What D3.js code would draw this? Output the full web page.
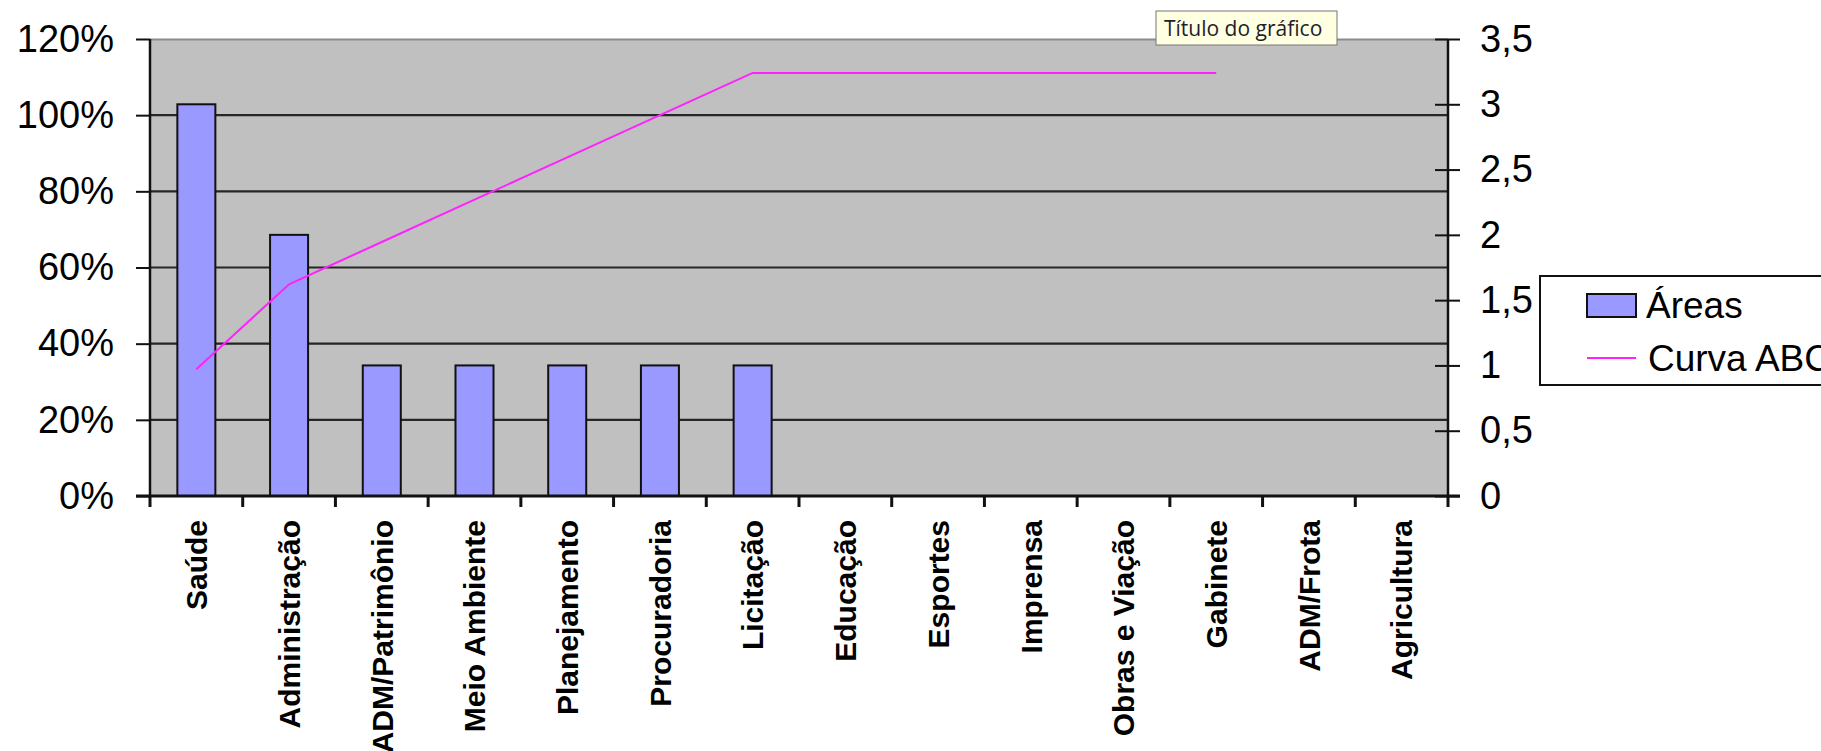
<!DOCTYPE html>
<html>
<head>
<meta charset="utf-8">
<script src="https://cdn.jsdelivr.net/npm/d3@7"></script>
<style>
  body { margin: 0; background: #fff; }
  svg { display: block; font-family: "Liberation Sans", Arial, sans-serif; }
  .domain { display: none; }
</style>
</head>
<body>
<div id="chart-area"></div>
<script>
// categorias e séries
var categories = ['Saúde', 'Administração', 'ADM/Patrimônio', 'Meio Ambiente', 'Planejamento',
    'Procuradoria', 'Licitação', 'Educação', 'Esportes', 'Imprensa', 'Obras e Viação',
    'Gabinete', 'ADM/Frota', 'Agricultura'];
var areas = [3, 2, 1, 1, 1, 1, 1, 0, 0, 0, 0, 0, 0, 0];
var curvaABC = [0.333, 0.556, 0.667, 0.778, 0.889, 1.0, 1.111, 1.111, 1.111, 1.111, 1.111, 1.111, null, null];
var leftTicks = [0, 0.2, 0.4, 0.6, 0.8, 1.0, 1.2];
var rightTicks = [0, 0.5, 1, 1.5, 2, 2.5, 3, 3.5];

var margin = { top: 39, left: 150 },
    width = 1298,
    height = 457;

var svg = d3.select('#chart-area')
    .append('svg')
        .attr('width', 1821)
        .attr('height', 751);

var g = svg.append('g')
    .attr('transform', 'translate(' + margin.left + ',' + margin.top + ')');

var x = d3.scaleBand()
    .domain(categories)
    .range([0, width]);

var yLeft = d3.scaleLinear()
    .domain([0, 1.2])
    .range([height, 0]);

var yRight = d3.scaleLinear()
    .domain([0, 3.5])
    .range([height, 0]);

// fundo da área de plotagem
g.append('rect')
    .attr('width', width)
    .attr('height', height)
    .attr('fill', '#c0c0c0');

g.append('line')
    .attr('x1', 0).attr('x2', width)
    .attr('y1', 0.5).attr('y2', 0.5)
    .attr('stroke', '#8c8c8c')
    .attr('stroke-width', 2);

// linhas de grade
g.selectAll('.grid')
    .data(leftTicks.filter(d => d > 0 && d < 1.2))
    .enter()
    .append('line')
        .attr('x1', 0).attr('x2', width)
        .attr('y1', d => yLeft(d)).attr('y2', d => yLeft(d))
        .attr('stroke', '#262626')
        .attr('stroke-width', 2.2);

// barras
var barW = x.bandwidth() * 0.41;
g.selectAll('.bar')
    .data(categories.map((c, i) => ({ cat: c, v: areas[i] })).filter(d => d.v > 0))
    .enter()
    .append('rect')
        .attr('x', d => x(d.cat) + (x.bandwidth() - barW) / 2)
        .attr('y', d => yRight(d.v))
        .attr('width', barW)
        .attr('height', d => height - yRight(d.v))
        .attr('fill', '#9999ff')
        .attr('stroke', '#111')
        .attr('stroke-width', 2);

// curva ABC
var line = d3.line()
    .defined(d => d.v !== null)
    .x(d => x(d.cat) + x.bandwidth() / 2)
    .y(d => yLeft(d.v));

g.append('path')
    .datum(categories.map((c, i) => ({ cat: c, v: curvaABC[i] })))
    .attr('d', line)
    .attr('fill', 'none')
    .attr('stroke', '#ff22ff')
    .attr('stroke-width', 2);

// eixo esquerdo
var yLeftCall = d3.axisLeft(yLeft)
    .tickValues(leftTicks)
    .tickSize(14)
    .tickPadding(22)
    .tickFormat(d3.format('.0%'));
var gl = g.append('g').call(yLeftCall);
gl.selectAll('line').attr('stroke', '#111').attr('stroke-width', 2);
gl.selectAll('text').attr('font-size', '38px').attr('fill', '#000');
g.append('line')
    .attr('x1', 0).attr('x2', 0)
    .attr('y1', 0).attr('y2', height)
    .attr('stroke', '#111').attr('stroke-width', 2.5);

// eixo direito
var yRightCall = d3.axisRight(yRight)
    .tickValues(rightTicks)
    .tickSize(12)
    .tickPadding(20)
    .tickFormat(d => String(d).replace('.', ','));
var gr = g.append('g')
    .attr('transform', 'translate(' + width + ',0)')
    .call(yRightCall);
gr.selectAll('line').attr('x1', -13).attr('stroke', '#111').attr('stroke-width', 2);
gr.selectAll('text').attr('font-size', '38px').attr('fill', '#000');
g.append('line')
    .attr('x1', width).attr('x2', width)
    .attr('y1', 0).attr('y2', height)
    .attr('stroke', '#111').attr('stroke-width', 2.5);

// eixo x
g.append('line')
    .attr('x1', -14).attr('x2', width + 12)
    .attr('y1', height).attr('y2', height)
    .attr('stroke', '#111').attr('stroke-width', 3);

g.selectAll('.xtick')
    .data(d3.range(categories.length + 1))
    .enter()
    .append('line')
        .attr('x1', i => i * x.step()).attr('x2', i => i * x.step())
        .attr('y1', height).attr('y2', height + 11)
        .attr('stroke', '#111')
        .attr('stroke-width', 3);

g.selectAll('.xlabel')
    .data(categories)
    .enter()
    .append('text')
        .attr('transform', d => 'translate(' + (x(d) + x.bandwidth() / 2) + ',' + (height + 24) + ') rotate(-90)')
        .attr('dy', '0.36em')
        .attr('text-anchor', 'end')
        .attr('font-size', '30px')
        .attr('font-weight', 'bold')
        .text(d => d);

// legenda
var legend = svg.append('g');
legend.append('rect')
    .attr('x', 1540).attr('y', 276)
    .attr('width', 320).attr('height', 109)
    .attr('fill', '#fff')
    .attr('stroke', '#111')
    .attr('stroke-width', 2);
legend.append('rect')
    .attr('x', 1587).attr('y', 294)
    .attr('width', 49).attr('height', 23)
    .attr('fill', '#9999ff')
    .attr('stroke', '#111')
    .attr('stroke-width', 2);
legend.append('text')
    .attr('x', 1646).attr('y', 318)
    .attr('font-size', '37px')
    .text('Áreas');
legend.append('line')
    .attr('x1', 1587).attr('x2', 1636)
    .attr('y1', 358).attr('y2', 358)
    .attr('stroke', '#ff22ff')
    .attr('stroke-width', 2);
legend.append('text')
    .attr('x', 1648).attr('y', 371)
    .attr('font-size', '37px')
    .text('Curva ABC');

// dica "Título do gráfico"
var tip = svg.append('g');
tip.append('rect')
    .attr('x', 1156).attr('y', 11)
    .attr('width', 181).attr('height', 34)
    .attr('fill', '#ffffe1')
    .attr('stroke', '#767676')
    .attr('stroke-width', 1);
tip.append('text')
    .attr('x', 1164).attr('y', 36)
    .attr('font-family', '"Open Sans", "DejaVu Sans", sans-serif')
    .attr('font-size', '21px')
    .attr('fill', '#1e1e2e')
    .text('Título do gráfico');
</script>
</body>
</html>
